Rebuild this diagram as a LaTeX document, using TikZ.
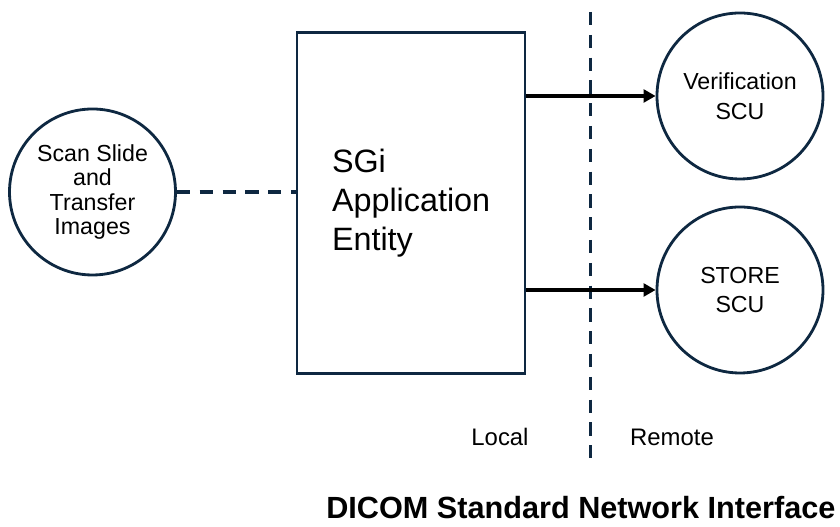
\documentclass[tikz,border=0pt]{standalone}
\usepackage{fontspec}
\setmainfont{Liberation Sans}
\usetikzlibrary{positioning, arrows.meta}
\definecolor{navy}{HTML}{0E2841}

\begin{document}
\begin{tikzpicture}
    \tikzstyle{block} = [rectangle,draw=navy,line width=1.8pt,fill=white,minimum height=8.525cm,text width=3.95cm,inner xsep=0.875cm,align=left,font=\fontsize{23}{27.6}\selectfont]
    \tikzstyle{circ} = [circle,draw=navy,line width=2pt,minimum size=4.15cm,inner sep=0pt,align=center,font=\fontsize{16.5}{21}\selectfont]
    \tikzstyle{link} = [navy,line width=2.2pt,dash pattern=on 0.33cm off 0.24cm]
    \tikzstyle{arr} = [-{Triangle[length=0.3cm,width=0.32cm]},line width=2.2pt]
    \tikzstyle{side} = [anchor=base,font=\fontsize{17}{20}\selectfont]

    \useasboundingbox (0,0) rectangle (21,13.175);

    \node (ae) [block] at (10.275,8.1) {SGi\\Application\\Entity};

    \node (scan) [circ, font=\fontsize{16.5}{17.4}\selectfont] at (2.3125,8.375) {Scan Slide\\and\\Transfer\\Images};
    \node (verif) [circ] at (18.5,10.775) {Verification\\SCU};
    \node (store) [circ] at (18.5,5.925) {STORE\\SCU};

    \coordinate (divtop) at (14.7625,12.875);
    \coordinate (divbot) at (14.7625,1.725);
    \draw [link] (divtop) -- (divbot);

    \draw [link] (scan.east) -- (scan.east -| ae.west);

    \draw [arr] (ae.east |- verif.west) -- (verif.west);
    \draw [arr] (ae.east |- store.west) -- (store.west);

    \node (local) [side] at (12.5,2.025) {Local};
    \node (remote) [side] at (16.8,2.025) {Remote};

    \node (title) [anchor=base west,inner sep=0pt,font=\bfseries\fontsize{21.8}{25}\selectfont] at (8.15,0.2) {DICOM Standard Network Interface};
\end{tikzpicture}
\end{document}
